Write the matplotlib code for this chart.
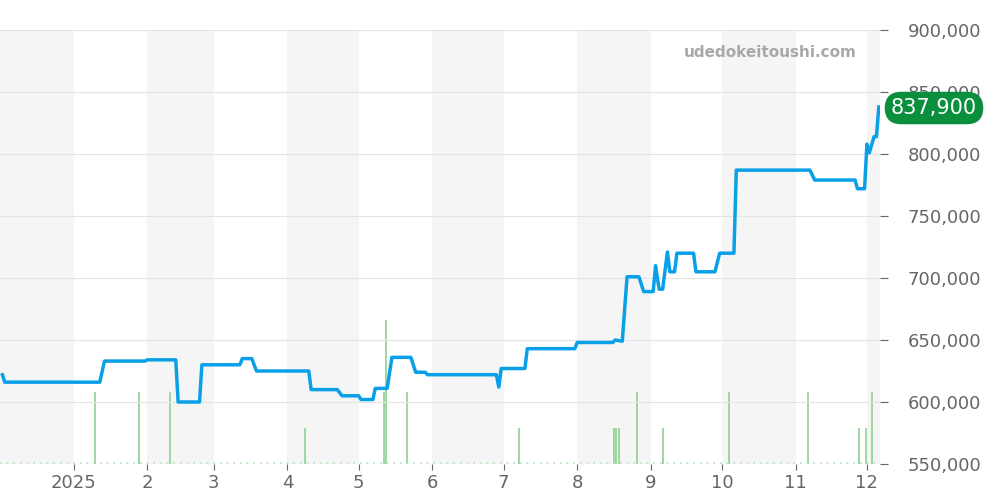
import matplotlib
matplotlib.use("Agg")
import matplotlib.pyplot as plt
import pandas as pd
from matplotlib.ticker import FuncFormatter

price_days = [1,2,42,44,61,62,74,75,84,85,101,102,106,108,130,131,142,144,151,152,157,158,163,165,173,175,179,180,193,209,210,211,221,222,242,243,258,259,262,264,269,271,275,276,277.5,279,281,282,284,285,292,293,301,303,309,310,341,343,360,361,364,365,366,368,369,370]
price_vals = [622,616,616,633,633,634,634,600,600,630,630,635,635,625,625,610,610,605,605,602,602,611,611,636,636,624,624,622,622,622,612,627,627,643,643,648,648,650,649,701,701,689,689,710,691,691,721,705,705,720,720,705,705,720,720,787,787,779,779,772,772,808,801,814,814,837.9]
vol_days = [40,58.5,71.5,128.5,161.5,162.5,171.5,218.5,258.5,259.5,260.5,268,279,307,340,361.5,364.5,367]
vol_vals = [2,2,2,1,2,4,2,1,1,1,1,2,1,2,2,1,1,2]
month_days = [31,62,90,121,151,182,212,243,274,304,335,365]
month_labels = ["2025","2","3","4","5","6","7","8","9","10","11","12"]

fig = plt.figure(figsize=(10,5), dpi=100)
ax = fig.add_axes([0,0.072,0.88,0.868])
xmin, xmax = 0, 370.5
ax2 = ax.twinx()
bands = [0]+month_days+[xmax]
for i in range(len(bands)-1):
    if i % 2 == 0:
        ax2.axvspan(bands[i], bands[i+1], color="#f5f5f5", zorder=0, lw=0)
ax2.set_ylim(0, 12.05)
ax2.vlines(vol_days, 0, vol_vals, color="#8fd18f", lw=1.2, zorder=2)
ax2.axhline(0.03, color="#b5e3b5", lw=1.2, ls=(0,(1,3)), zorder=2)
ax2.set_yticks([])
ax2.set_zorder(0)
ax.set_zorder(1); ax.patch.set_visible(False)
ax.plot(price_days, [v*1000 for v in price_vals], color="#0aa0e8", lw=2.5, zorder=5)
ax.set_xlim(xmin, xmax)
ax2.set_xlim(xmin, xmax)
ax.set_ylim(550000, 900000)
ax.yaxis.tick_right()
ax.set_yticks(range(550000, 900001, 50000))
ax.yaxis.set_major_formatter(FuncFormatter(lambda v,p: f"{int(v):,}"))
ax.grid(axis="y", color="#e3e3e3", lw=0.8)
ax.set_xticks(month_days); ax.set_xticklabels(month_labels)
ax.tick_params(axis="both", labelsize=13, colors="#666666")
ax.tick_params(axis="x", length=4)
ax.tick_params(axis="y", pad=14, length=6)
for s in ax.spines.values(): s.set_visible(False)
for s in ax2.spines.values(): s.set_visible(False)
fig.text(0.857, 0.895, "udedokeitoushi.com", ha="right", va="center", fontsize=11, fontweight="bold", color="#a8a8a8")
fig.text(0.934, 0.784, "837,900", ha="center", va="center", fontsize=15, color="white", zorder=10,
         bbox=dict(boxstyle="round,pad=0.3,rounding_size=0.8", fc="#0a8f3c", ec="none"))
fig.savefig("out.png")
